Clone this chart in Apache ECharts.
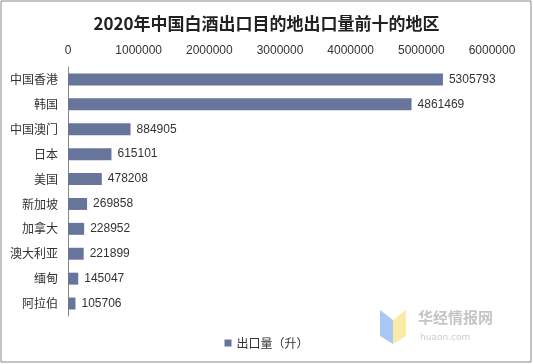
<!DOCTYPE html>
<html><head><meta charset="utf-8">
<script src="https://cdn.jsdelivr.net/npm/echarts@6/dist/echarts.min.js"></script>
<style>html,body{margin:0;padding:0;background:#fff}#c{width:533px;height:364px}</style>
</head><body><div id="c"></div>
<script>
const titleText = '2020年中国白酒出口目的地出口量前十的地区';
const categories = ['中国香港','韩国','中国澳门','日本','美国','新加坡','加拿大','澳大利亚','缅甸','阿拉伯'];
const values = [5305793,4861469,884905,615101,478208,269858,228952,221899,145047,105706];
const seriesName = '出口量（升）';
const xTicks = [0,1000000,2000000,3000000,4000000,5000000,6000000];

const chart = echarts.init(document.getElementById('c'));
chart.setOption({
  backgroundColor:'#fff',
  animation:false,
  title:{text:titleText,left:'center',top:10,textStyle:{fontFamily:'Noto Sans CJK SC',fontSize:17,fontWeight:'bold',color:'#222'}},
  legend:{bottom:10,left:'center',itemWidth:7,itemHeight:7,icon:'rect',textStyle:{fontFamily:'Noto Sans CJK SC',fontSize:12,color:'#333'},data:[seriesName]},
  grid:{left:68,right:41,top:67,bottom:48},
  xAxis:{type:'value',position:'top',min:xTicks[0],max:xTicks[xTicks.length-1],interval:1000000,
    axisLine:{show:false},axisTick:{show:false},splitLine:{show:false},
    axisLabel:{fontFamily:'Arial, Liberation Sans',fontSize:12,color:'#333',margin:10,formatter:v=>String(v)}},
  yAxis:{type:'category',data:categories,inverse:true,
    axisLine:{show:true,lineStyle:{color:'#888'}},axisTick:{show:false},
    axisLabel:{fontFamily:'Noto Sans CJK SC',fontSize:12,color:'#333',margin:10}},
  series:[{name:seriesName,type:'bar',data:values,barCategoryGap:'52%',
    itemStyle:{color:'#68759b'},
    label:{show:true,position:'right',distance:6,fontFamily:'Arial, Liberation Sans',fontSize:12,color:'#333'}}],
  graphic:[
    {type:'rect',shape:{x:1,y:1,width:530,height:361},style:{fill:'none',stroke:'#888',lineWidth:1},silent:true},
    {type:'polygon',shape:{points:[[380,310],[393,320],[393,344],[380,336]]},style:{fill:'#a8c8f5'}},
    {type:'polygon',shape:{points:[[393,320],[406,310],[406,336],[393,344]]},style:{fill:'#fbeaa6'}},
    {type:'text',left:418,top:310,style:{text:'华经情报网',fontFamily:'Noto Sans CJK SC',fontSize:15,fontWeight:'bold',fill:'#c4c4c4'}},
    {type:'text',left:420,top:333,style:{text:'huaon.com',fontFamily:'DejaVu Sans',fontSize:9,fill:'#cccccc',letterSpacing:3}}
  ]
});
</script></body></html>
